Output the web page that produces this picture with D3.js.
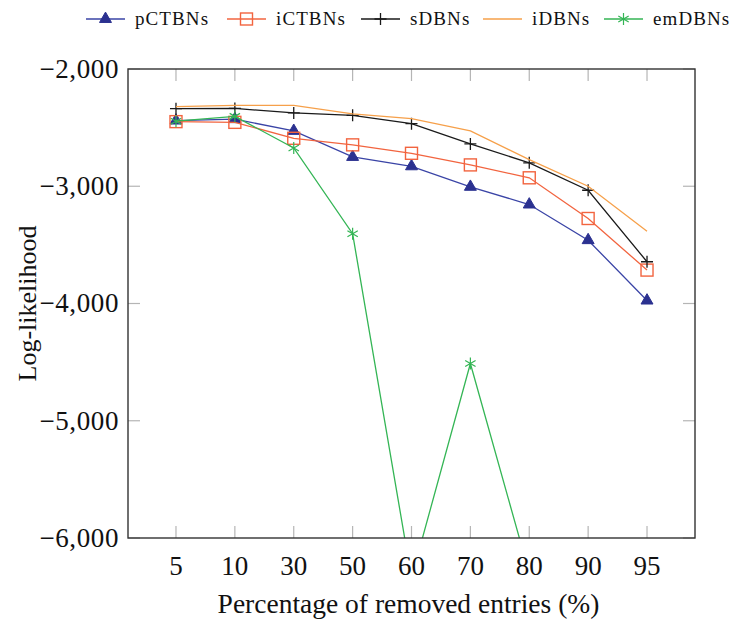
<!DOCTYPE html>
<html>
<head>
<meta charset="utf-8">
<script src="https://cdn.jsdelivr.net/npm/d3@7"></script>
<style>
  body { margin: 0; background: #fff; }
  text { font-family: "Liberation Serif", serif; fill: #111; }
</style>
</head>
<body>
<div id="main"></div>
<script>
// removal percentages on the x axis
const categories = ['5', '10', '30', '50', '60', '70', '80', '90', '95']
const yTicks = [-2000, -3000, -4000, -5000, -6000]

// log-likelihood per method
const pCTBNs = [-2440, -2428, -2528, -2750, -2830, -3005, -3156, -3460, -3975]
const iCTBNs = [-2449, -2455, -2591, -2647, -2719, -2818, -2928, -3275, -3715]
const sDBNs = [-2338, -2336, -2375, -2395, -2466, -2639, -2800, -3034, -3644]
const iDBNs = [-2321, -2310, -2310, -2383, -2423, -2528, -2773, -3000, -3383]
const emDBNs = [-2445, -2404, -2673, -3405, -6340, -4512, -6300, -6900, -7300]

const WIDTH = 731, HEIGHT = 619
const margin = { left: 128, right: 36, top: 69, bottom: 81 }

const series = [
  { name: 'pCTBNs', values: pCTBNs, color: '#3a44a6', fill: '#2b3190', mark: 'triangle' },
  { name: 'iCTBNs', values: iCTBNs, color: '#f2643f', fill: 'none', mark: 'square' },
  { name: 'sDBNs', values: sDBNs, color: '#1a1a1a', fill: 'none', mark: 'plus' },
  { name: 'iDBNs', values: iDBNs, color: '#f6a04a', fill: 'none', mark: null },
  { name: 'emDBNs', values: emDBNs, color: '#34b555', fill: 'none', mark: 'star' }
]

const svg = d3.select('#main').append('svg').attr('width', WIDTH).attr('height', HEIGHT)

const x = d3.scalePoint().domain(categories)
  .range([margin.left, WIDTH - margin.right]).padding(0.815)
const y = d3.scaleLinear().domain([-6000, -2000])
  .range([HEIGHT - margin.bottom, margin.top])

const x0 = margin.left, x1 = WIDTH - margin.right
const y0 = margin.top, y1 = HEIGHT - margin.bottom

svg.append('defs').append('clipPath').attr('id', 'plotClip')
  .append('rect').attr('x', x0).attr('y', y0).attr('width', x1 - x0).attr('height', y1 - y0)

// gray inner ticks on all four sides
const tickLen = 12
const ticks = svg.append('g').attr('stroke', '#b5b5b5').attr('stroke-width', 1.2)
categories.forEach(c => {
  ticks.append('line').attr('x1', x(c)).attr('x2', x(c)).attr('y1', y1).attr('y2', y1 - tickLen)
  ticks.append('line').attr('x1', x(c)).attr('x2', x(c)).attr('y1', y0).attr('y2', y0 + tickLen)
})
yTicks.forEach(v => {
  ticks.append('line').attr('x1', x0).attr('x2', x0 + tickLen).attr('y1', y(v)).attr('y2', y(v))
  ticks.append('line').attr('x1', x1).attr('x2', x1 - tickLen).attr('y1', y(v)).attr('y2', y(v))
})

const fmt = v => (v < 0 ? '\u2212' : '') + d3.format(',')(Math.abs(v))

svg.append('g').selectAll('text').data(categories).join('text')
  .attr('x', d => x(d)).attr('y', y1 + 37).attr('text-anchor', 'middle')
  .attr('font-size', 27).text(d => d)

svg.append('g').selectAll('text').data(yTicks).join('text')
  .attr('x', x0 - 9).attr('y', d => y(d)).attr('dy', '0.33em').attr('text-anchor', 'end')
  .attr('font-size', 27).attr('letter-spacing', 0.6).text(fmt)

svg.append('text').attr('x', (x0 + x1) / 2 - 3).attr('y', 613).attr('text-anchor', 'middle')
  .attr('font-size', 27.5).text('Percentage of removed entries (%)')

svg.append('text').attr('transform', 'translate(36,' + ((y0 + y1) / 2) + ') rotate(-90)')
  .attr('text-anchor', 'middle').attr('font-size', 26).text('Log-likelihood')

// markers
function drawMark(g, kind, color, fill, cx, cy) {
  if (kind === 'triangle') {
    g.append('path').attr('d', d3.symbol(d3.symbolTriangle, 62)())
      .attr('transform', 'translate(' + cx + ',' + cy + ')').attr('fill', fill).attr('stroke', fill)
  } else if (kind === 'square') {
    g.append('rect').attr('x', cx - 6).attr('y', cy - 6).attr('width', 12).attr('height', 12)
      .attr('fill', 'none').attr('stroke', color).attr('stroke-width', 1.4)
  } else if (kind === 'plus') {
    g.append('path').attr('d', `M${cx - 6},${cy}H${cx + 6}M${cx},${cy - 6}V${cy + 6}`)
      .attr('stroke', color).attr('stroke-width', 1.3)
  } else if (kind === 'star') {
    let d = ''
    for (let i = 0; i < 3; i++) {
      const a = Math.PI / 2 + i * Math.PI / 3
      d += `M${cx - 6 * Math.cos(a)},${cy - 6 * Math.sin(a)}L${cx + 6 * Math.cos(a)},${cy + 6 * Math.sin(a)}`
    }
    g.append('path').attr('d', d).attr('stroke', color).attr('stroke-width', 1.2)
  }
}

const plot = svg.append('g').attr('clip-path', 'url(#plotClip)')
const line = d3.line().x((d, i) => x(categories[i])).y(d => y(d))

series.forEach(s => {
  const g = plot.append('g')
  g.append('path').attr('d', line(s.values)).attr('fill', 'none')
    .attr('stroke', s.color).attr('stroke-width', 1.3)
  if (s.mark) s.values.forEach((v, i) => drawMark(g, s.mark, s.color, s.fill, x(categories[i]), y(v)))
})

// frame
svg.append('rect').attr('x', x0).attr('y', y0).attr('width', x1 - x0).attr('height', y1 - y0)
  .attr('fill', 'none').attr('stroke', '#333').attr('stroke-width', 1.4)

// legend across the top, one entry per series
const legendX = [86, 227, 361, 483, 604]
const ly = 19
const legend = svg.append('g')
series.forEach((s, i) => {
  const lx = legendX[i]
  const g = legend.append('g')
  g.append('line').attr('x1', lx).attr('x2', lx + 39).attr('y1', ly).attr('y2', ly)
    .attr('stroke', s.color).attr('stroke-width', 1.3)
  if (s.mark) drawMark(g, s.mark, s.color, s.fill, lx + 19.5, ly)
  g.append('text').attr('x', lx + 49).attr('y', ly).attr('dy', '0.33em')
    .attr('font-size', 19).attr('letter-spacing', 1.1).text(s.name)
})
</script>
</body>
</html>
